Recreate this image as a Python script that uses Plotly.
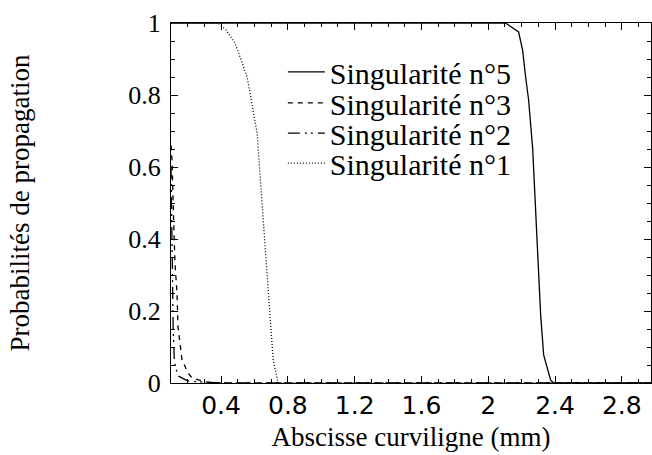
import plotly.graph_objects as go

# ---- data ----
x_s5 = [0.1, 2.05, 2.104, 2.182, 2.206, 2.224, 2.242, 2.266, 2.296, 2.314, 2.332, 2.356, 2.374, 2.392, 2.975]
y_s5 = [1.0, 1.0, 1.0, 0.975, 0.925, 0.85, 0.786, 0.653, 0.37, 0.19, 0.078, 0.036, 0.008, 0.0, 0.0]

x_s3 = [0.1, 0.106, 0.116, 0.124, 0.136, 0.142, 0.166, 0.202, 0.226, 0.304, 0.394, 2.975]
y_s3 = [0.66, 0.62, 0.45, 0.33, 0.25, 0.156, 0.064, 0.028, 0.014, 0.003, 0.0, 0.0]

x_s2 = [0.1, 0.104, 0.108, 0.113, 0.12, 0.14, 0.2, 0.3, 0.5, 2.975]
y_s2 = [0.6, 0.45, 0.3, 0.15, 0.06, 0.02, 0.006, 0.002, 0.0, 0.0]

x_s1 = [0.1, 0.35, 0.382, 0.43, 0.484, 0.556, 0.574, 0.616, 0.622, 0.645, 0.664, 0.676, 0.694, 0.712, 0.742, 2.975]
y_s1 = [1.0, 1.0, 1.0, 0.98, 0.944, 0.85, 0.80, 0.694, 0.653, 0.5, 0.37, 0.28, 0.156, 0.064, 0.0, 0.0]

series_names = ["Singularité n°5", "Singularité n°3", "Singularité n°2", "Singularité n°1"]

x_tickvals = [0.4, 0.8, 1.2, 1.6, 2.0, 2.4, 2.8]
x_ticktext = ["0.4", "0.8", "1.2", "1.6", "2", "2.4", "2.8"]
y_tickvals = [0, 0.2, 0.4, 0.6, 0.8, 1.0]
y_ticktext = ["0", "0.2", "0.4", "0.6", "0.8", "1"]

x_title = "Abscisse curviligne (mm)"
y_title = "Probabilités de propagation"

serif = "Liberation Serif"
sans = "DejaVu Sans"

fig = go.Figure()
dashes = ["solid", "5px,5px", "12px,5px,2px,4px,2px,5px", "1px,2px"]
legend_ids = ["legend", "legend2", "legend3", "legend4"]
data = [(x_s5, y_s5), (x_s3, y_s3), (x_s2, y_s2), (x_s1, y_s1)]
for (xs, ys), name, dash, lg in zip(data, series_names, dashes, legend_ids):
    fig.add_trace(go.Scatter(
        x=xs, y=ys, mode="lines", name=name,
        line=dict(color="black", width=1.3, dash=dash),
        showlegend=True, legend=lg,
    ))

axis_common = dict(
    showline=True, linecolor="black", linewidth=1,
    mirror="allticks", ticks="inside", tickcolor="black", tickwidth=1,
    showgrid=False, zeroline=False,
)

fig.update_xaxes(
    range=[0.1, 2.975],
    tickmode="array", tickvals=x_tickvals, ticktext=x_ticktext,
    ticklen=7,
    minor=dict(dtick=0.1, tick0=0, ticks="inside", ticklen=4, tickcolor="black", showgrid=False),
    tickfont=dict(family=sans, size=25, color="black"),
    title=dict(text=x_title, font=dict(family=serif, size=27, color="black"), standoff=8),
    **axis_common,
)
fig.update_yaxes(
    range=[0, 1],
    tickmode="array", tickvals=y_tickvals, ticktext=y_ticktext,
    ticklen=7,
    minor=dict(dtick=0.05, tick0=0, ticks="inside", ticklen=4, tickcolor="black", showgrid=False),
    tickfont=dict(family=serif, size=26, color="black"),
    ticklabelstandoff=4,
    title=dict(text=y_title, font=dict(family=serif, size=27, color="black"), standoff=90),
    **axis_common,
)

legend_style = dict(
    xanchor="left", yanchor="middle",
    bgcolor="rgba(0,0,0,0)", borderwidth=0,
    font=dict(family=serif, size=30, color="black"),
    itemwidth=37,
)
legend_y = [0.864, 0.778, 0.694, 0.611]
legend_layout = {lg: dict(x=0.233, y=yy, **legend_style) for lg, yy in zip(legend_ids, legend_y)}

fig.update_layout(
    width=652, height=455,
    margin=dict(l=171, r=1, t=23, b=72),
    paper_bgcolor="white", plot_bgcolor="white",
    showlegend=True,
    **legend_layout,
)

fig.write_html("out.html", config={"displayModeBar": False},
               post_script="document.body.style.margin='0';")
